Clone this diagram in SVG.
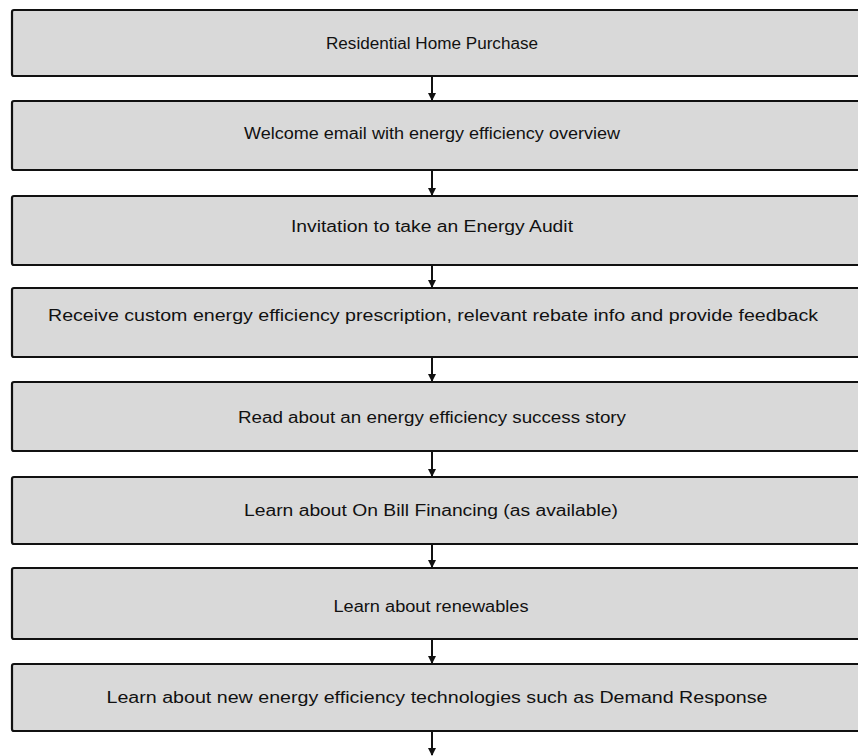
<svg xmlns="http://www.w3.org/2000/svg" width="858" height="756" viewBox="0 0 858 756">
<style>
.box{fill:#d9d9d9;stroke:#111;stroke-width:2.2}
.lbl{font-family:"Liberation Sans",Arial,sans-serif;font-size:16px;fill:#111;text-anchor:middle}
.conn{stroke:#111;stroke-width:2;fill:none;marker-end:url(#ah)}
</style>
<defs>
<marker id="ah" markerWidth="8" markerHeight="8" refX="7" refY="4" orient="auto" markerUnits="userSpaceOnUse">
<path d="M0,0 L8,4 L0,8 Z" fill="#111"/>
</marker>
</defs>
<rect width="858" height="756" fill="#fff"/>
<g id="connectors">
<line class="conn" x1="432" y1="76" x2="432" y2="100"/>
<line class="conn" x1="432" y1="170" x2="432" y2="195"/>
<line class="conn" x1="432" y1="265" x2="432" y2="287"/>
<line class="conn" x1="432" y1="357" x2="432" y2="381"/>
<line class="conn" x1="432" y1="451" x2="432" y2="476"/>
<line class="conn" x1="432" y1="544" x2="432" y2="567"/>
<line class="conn" x1="432" y1="639" x2="432" y2="663"/>
<line class="conn" x1="432" y1="731" x2="432" y2="755"/>
</g>
<g id="n1"><rect class="box" x="12" y="10" width="860" height="66" rx="2"/><text class="lbl" x="432" y="49" textLength="212" lengthAdjust="spacingAndGlyphs">Residential Home Purchase</text></g>
<g id="n2"><rect class="box" x="12" y="101" width="860" height="69" rx="2"/><text class="lbl" x="432" y="139" textLength="376" lengthAdjust="spacingAndGlyphs">Welcome email with energy efficiency overview</text></g>
<g id="n3"><rect class="box" x="12" y="196" width="860" height="69" rx="2"/><text class="lbl" x="432" y="232" textLength="282" lengthAdjust="spacingAndGlyphs">Invitation to take an Energy Audit</text></g>
<g id="n4"><rect class="box" x="12" y="288" width="860" height="69" rx="2"/><text class="lbl" x="433" y="321" textLength="770" lengthAdjust="spacingAndGlyphs">Receive custom energy efficiency prescription, relevant rebate info and provide feedback</text></g>
<g id="n5"><rect class="box" x="12" y="382" width="860" height="69" rx="2"/><text class="lbl" x="432" y="423" textLength="388" lengthAdjust="spacingAndGlyphs">Read about an energy efficiency success story</text></g>
<g id="n6"><rect class="box" x="12" y="477" width="860" height="67" rx="2"/><text class="lbl" x="431" y="516" textLength="374" lengthAdjust="spacingAndGlyphs">Learn about On Bill Financing (as available)</text></g>
<g id="n7"><rect class="box" x="12" y="568" width="860" height="71" rx="2"/><text class="lbl" x="431" y="612" textLength="195" lengthAdjust="spacingAndGlyphs">Learn about renewables</text></g>
<g id="n8"><rect class="box" x="12" y="664" width="860" height="67" rx="2"/><text class="lbl" x="437" y="703" textLength="661" lengthAdjust="spacingAndGlyphs">Learn about new energy efficiency technologies such as Demand Response</text></g>
</svg>
